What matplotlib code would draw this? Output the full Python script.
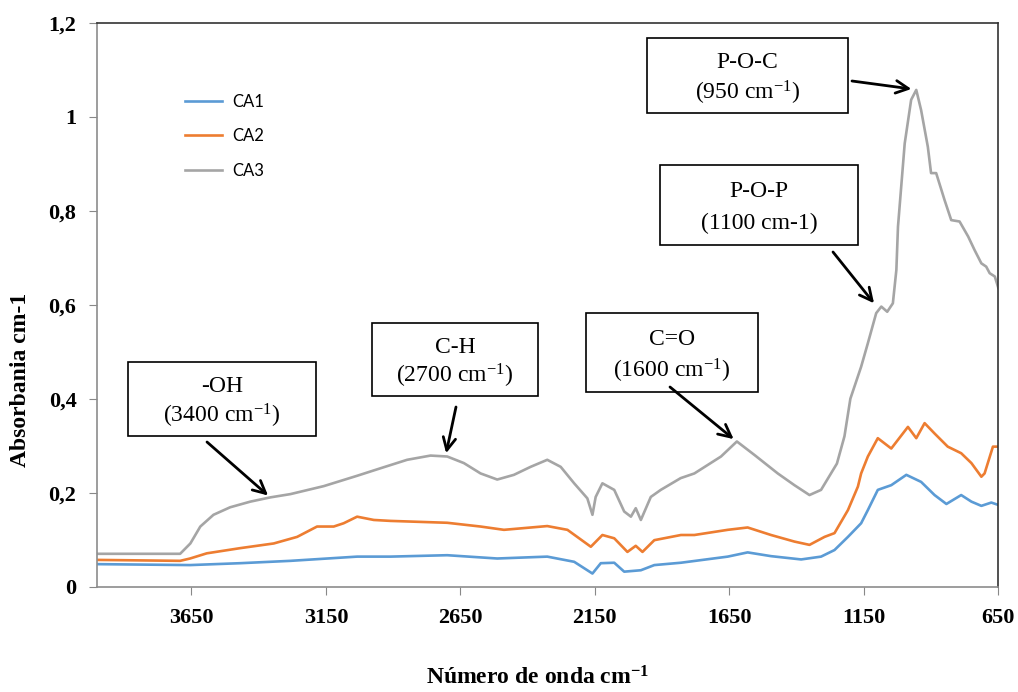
import matplotlib
matplotlib.use('Agg')
import matplotlib.pyplot as plt
from matplotlib.patches import Rectangle

# Wavenumbers (cm-1) and absorbance
wn_ca1 = [4000, 3655, 3469, 3282, 3034, 2910, 2699, 2513, 2327, 2227, 2159, 2128,
          2078, 2041, 1979, 1929, 1830, 1656, 1582, 1495, 1383, 1309, 1259, 1209,
          1160, 1135, 1098, 1048, 992, 937, 887, 843, 788, 750, 713, 676, 650]
ca1 = [0.048, 0.046, 0.050, 0.055, 0.064, 0.064, 0.067, 0.060, 0.064, 0.053, 0.028, 0.050,
       0.051, 0.032, 0.035, 0.046, 0.051, 0.064, 0.073, 0.065, 0.058, 0.064, 0.078, 0.106,
       0.135, 0.163, 0.206, 0.216, 0.238, 0.223, 0.195, 0.176, 0.195, 0.181, 0.172, 0.179, 0.174]

wn_ca2 = [4000, 3692, 3655, 3593, 3469, 3344, 3257, 3183, 3121, 3084, 3034, 2972,
          2910, 2699, 2575, 2488, 2327, 2252, 2165, 2122, 2078, 2029, 1998, 1973,
          1929, 1830, 1780, 1656, 1582, 1495, 1408, 1352, 1296, 1259, 1209, 1172,
          1160, 1135, 1098, 1048, 986, 955, 924, 887, 838, 788, 750, 713, 701, 670, 650]
ca2 = [0.057, 0.055, 0.060, 0.071, 0.082, 0.092, 0.106, 0.128, 0.128, 0.135, 0.149, 0.142,
       0.140, 0.136, 0.128, 0.121, 0.129, 0.121, 0.085, 0.110, 0.103, 0.074, 0.087, 0.074,
       0.099, 0.110, 0.110, 0.121, 0.126, 0.110, 0.096, 0.089, 0.106, 0.114, 0.163, 0.213,
       0.241, 0.277, 0.316, 0.294, 0.340, 0.316, 0.348, 0.326, 0.298, 0.284, 0.263, 0.234,
       0.241, 0.298, 0.298]

wn_ca3 = [4000, 3692, 3654, 3617, 3568, 3506, 3431, 3357, 3282, 3158, 3034, 2947,
          2848, 2761, 2699, 2637, 2575, 2513, 2451, 2389, 2327, 2277, 2227, 2178,
          2159, 2147, 2122, 2078, 2041, 2016, 1998, 1979, 1942, 1905, 1831, 1780,
          1681, 1622, 1556, 1470, 1408, 1352, 1309, 1250, 1222, 1200, 1160, 1135,
          1104, 1085, 1063, 1042, 1029, 1023, 998, 974, 955, 937, 912, 900, 881,
          850, 825, 794, 762, 738, 713, 695, 682, 663, 650]
ca3 = [0.070, 0.070, 0.092, 0.128, 0.153, 0.169, 0.181, 0.190, 0.197, 0.214, 0.236, 0.252,
       0.270, 0.279, 0.277, 0.263, 0.241, 0.228, 0.238, 0.255, 0.270, 0.255, 0.220, 0.188,
       0.153, 0.191, 0.220, 0.206, 0.160, 0.149, 0.167, 0.142, 0.191, 0.206, 0.231, 0.241,
       0.277, 0.309, 0.280, 0.241, 0.216, 0.195, 0.206, 0.262, 0.320, 0.400, 0.468, 0.518,
       0.582, 0.596, 0.585, 0.603, 0.674, 0.766, 0.943, 1.036, 1.057, 1.014, 0.936, 0.880,
       0.880, 0.823, 0.780, 0.777, 0.745, 0.716, 0.688, 0.681, 0.667, 0.660, 0.636]

x_ticks = [3650, 3150, 2650, 2150, 1650, 1150, 650]
y_ticks = [0, 0.2, 0.4, 0.6, 0.8, 1.0, 1.2]
y_labels = ['0', '0,2', '0,4', '0,6', '0,8', '1', '1,2']

# band annotations: title, subtitle, target (wavenumber, absorbance)
bands = [
    ('-OH', '(3400 cm$^{-1}$)', (3365, 0.194)),
    ('C-H', '(2700 cm$^{-1}$)', (2703, 0.284)),
    ('C=O', '(1600 cm$^{-1}$)', (1634, 0.314)),
    ('P-O-P', '(1100 cm-1)', (1112, 0.603)),
    ('P-O-C', '(950 cm$^{-1}$)', (973, 1.059)),
]
# box corners and arrow tails in image pixels (x0, y0, x1, y1), (tx, ty)
box_px = [(128, 362, 316, 436), (372, 323, 538, 396), (586, 313, 758, 392),
          (660, 165, 858, 245), (647, 38, 848, 113)]
tail_px = [(207, 442), (456, 407), (670, 387), (833, 252), (852, 81)]

W, H = 1018, 692
plt.rcParams['mathtext.default'] = 'regular'
serif = 'Liberation Serif'

fig = plt.figure(figsize=(W / 100, H / 100), dpi=100)
ax = fig.add_axes([97.3 / W, 1 - 586.7 / H, 901 / W, 564 / H])

ax.plot(wn_ca1, ca1, color='#5B9BD5', lw=1.9, label='CA1')
ax.plot(wn_ca2, ca2, color='#ED7D31', lw=1.9, label='CA2')
ax.plot(wn_ca3, ca3, color='#A5A5A5', lw=1.9, label='CA3')

ax.set_xlim(4000, 650)
ax.set_ylim(0, 1.2)
ax.set_xticks(x_ticks)
ax.set_xticklabels([str(v) for v in x_ticks], fontfamily=serif, fontweight='bold', fontsize=16)
ax.set_yticks(y_ticks)
ax.set_yticklabels(y_labels, fontfamily=serif, fontweight='bold', fontsize=16)
ax.tick_params(axis='both', direction='out', length=6, color='#888888', pad=9)

for s in ['left', 'bottom']:
    ax.spines[s].set_color('#8c8c8c')
for s in ['top', 'right']:
    ax.spines[s].set_color('#333333')
for s in ax.spines.values():
    s.set_linewidth(1.2)

ax.legend(loc='upper left', bbox_to_anchor=(0.0973, 0.8736), frameon=False,
          borderpad=0, borderaxespad=0, handlelength=2.2, handletextpad=0.65,
          labelspacing=1.1, prop={'family': 'Lato', 'size': 12})

fig.text(21 / W, 1 - 380 / H, 'Absorbania cm-1', rotation=90, ha='center', va='center',
         fontfamily=serif, fontweight='bold', fontsize=17)
fig.text(538 / W, 1 - 678 / H, 'Número de onda cm$^{-1}$', ha='center', va='center',
         fontfamily=serif, fontweight='bold', fontsize=17)

for (title, sub, target), (x0, y0, x1, y1), (tx, ty) in zip(bands, box_px, tail_px):
    fig.patches.append(Rectangle((x0 / W, 1 - y1 / H), (x1 - x0) / W, (y1 - y0) / H,
                                 transform=fig.transFigure, fill=False, ec='black', lw=1.2))
    cx = (x0 + x1) / 2 / W
    h = y1 - y0
    fig.text(cx, 1 - (y0 + 0.33 * h) / H, title, ha='center', va='center',
             fontfamily=serif, fontsize=17)
    fig.text(cx, 1 - (y0 + 0.73 * h) / H, sub, ha='center', va='center',
             fontfamily=serif, fontsize=17)
    ax.annotate('', xy=target, xycoords='data', xytext=(tx / W, 1 - ty / H),
                textcoords='figure fraction',
                arrowprops=dict(arrowstyle='->,head_length=0.9,head_width=0.45',
                                color='black', lw=2, shrinkA=0, shrinkB=0))

fig.savefig('out.png', dpi=100)
